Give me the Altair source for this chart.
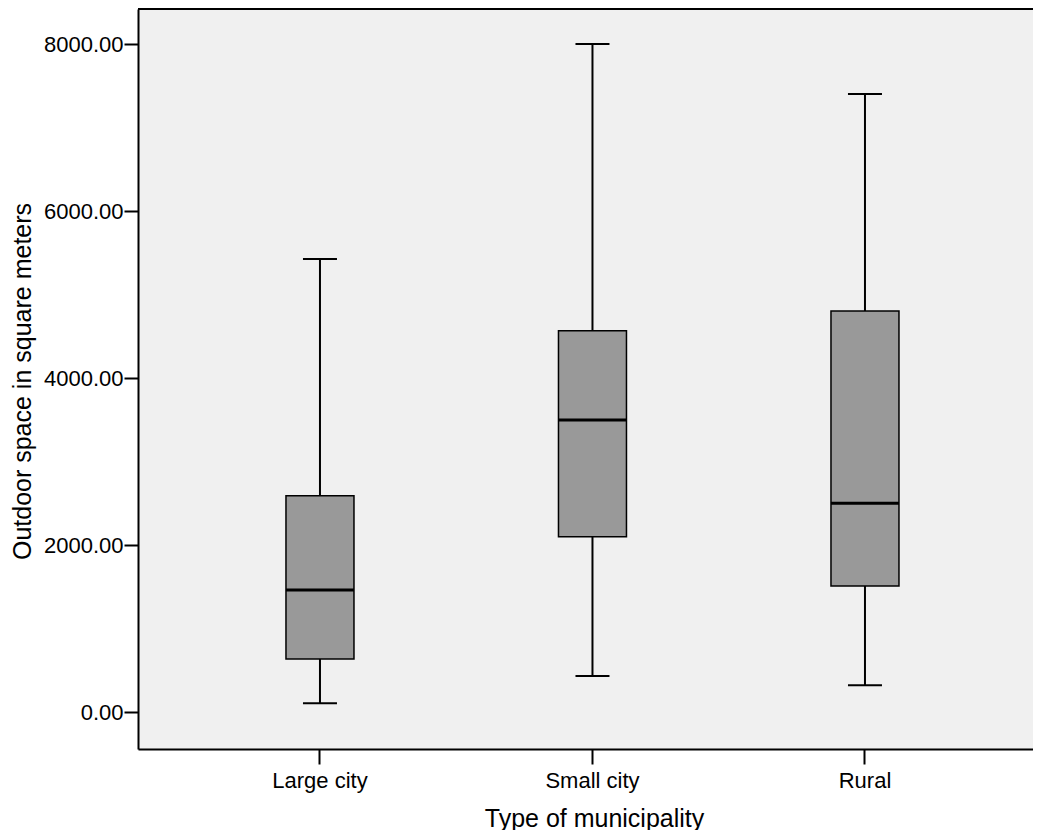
import altair as alt
import pandas as pd

categories = ["Large city", "Small city", "Rural"]
whisker_low = [104, 431, 320]
q1 = [635, 2099, 1509]
median = [1461, 3497, 2499]
q3 = [2590, 4566, 4802]
whisker_high = [5425, 8000, 7401]
y_ticks = [0, 2000, 4000, 6000, 8000]

df = pd.DataFrame({
    "cat": categories,
    "low": whisker_low,
    "q1": q1,
    "med": median,
    "q3": q3,
    "high": whisker_high,
})

FONT = "Liberation Sans"
W = 895
H = 740

x_enc = alt.X(
    "cat:N",
    sort=categories,
    scale=alt.Scale(paddingInner=0, paddingOuter=0.1422, align=0.59),
    axis=alt.Axis(
        title="Type of municipality",
        labelAngle=0,
        labelFontSize=22,
        labelFont=FONT,
        labelColor="black",
        labelPadding=6,
        tickSize=15,
        tickWidth=2,
        tickColor="black",
        domain=True,
        domainColor="black",
        domainWidth=2,
        titleFontSize=25,
        titleFont=FONT,
        titleFontWeight="normal",
        titleColor="black",
        titleX=456,
        titleY=77,
        titleBaseline="alphabetic",
        titleAnchor="middle",
        titleAlign="center",
    ),
)

y_scale = alt.Scale(domain=[-443.1, 8419.2], nice=False, zero=False)
y_axis = alt.Axis(
    title="Outdoor space in square meters",
    values=y_ticks,
    format=".2f",
    labelFontSize=22,
    labelFont=FONT,
    labelColor="black",
    labelPadding=1,
    tickSize=14,
    tickWidth=2,
    tickColor="black",
    domain=True,
    domainColor="black",
    domainWidth=2,
    grid=False,
    titleFontSize=25,
    titleFont=FONT,
    titleFontWeight="normal",
    titleColor="black",
    titleAngle=270,
    titleX=-103,
    titleY=372,
    titleBaseline="bottom",
    titleAlign="center",
)

base = alt.Chart(df)

top_border = base.mark_rule(color="black", strokeWidth=2).encode(
    x=alt.value(0), x2=alt.value(W), y=alt.value(0)
)

whiskers = base.mark_rule(color="black", strokeWidth=2).encode(
    x=x_enc,
    y=alt.Y("low:Q", scale=y_scale, axis=y_axis),
    y2="high:Q",
)

boxes = base.mark_bar(size=68, fill="#999999", stroke="black", strokeWidth=1.5, opacity=1).encode(
    x=alt.X("cat:N", sort=categories),
    y=alt.Y("q1:Q"),
    y2="q3:Q",
)

medians = base.mark_tick(size=68, thickness=3, color="black", opacity=1).encode(
    x=alt.X("cat:N", sort=categories),
    y=alt.Y("med:Q"),
)

caps_high = base.mark_tick(size=34, thickness=2, color="black", opacity=1).encode(
    x=alt.X("cat:N", sort=categories),
    y=alt.Y("high:Q"),
)

caps_low = base.mark_tick(size=34, thickness=2, color="black", opacity=1).encode(
    x=alt.X("cat:N", sort=categories),
    y=alt.Y("low:Q"),
)

chart = (
    alt.layer(whiskers, boxes, medians, caps_high, caps_low, top_border)
    .properties(
        width=W,
        height=H,
        autosize=alt.AutoSizeParams(type="none"),
        padding={"left": 130, "top": 1, "right": 0, "bottom": 81},
        background="white",
    )
    .configure_view(fill="#f0f0f0", stroke=None)
)

chart.save("out.html", embed_options={"renderer": "svg", "actions": False})
